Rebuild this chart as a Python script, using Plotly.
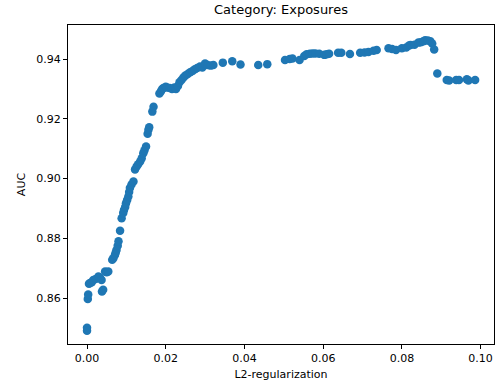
import plotly.graph_objects as go

l2_reg = [0.0000, 0.0000, 0.0002, 0.0003, 0.0005, 0.0008, 0.0012, 0.0016, 0.0022, 0.0029,
          0.0033, 0.0037, 0.0038, 0.0041, 0.0046, 0.0050, 0.0054, 0.0064, 0.0067, 0.0071,
          0.0073, 0.0075, 0.0078, 0.0080, 0.0084, 0.0088, 0.0092, 0.0094, 0.0097, 0.0099,
          0.0102, 0.0105, 0.0107, 0.0109, 0.0113, 0.0118, 0.0122, 0.0126, 0.0130, 0.0135,
          0.0139, 0.0143, 0.0146, 0.0150, 0.0154, 0.0156, 0.0158, 0.0166, 0.0169, 0.0184,
          0.0188, 0.0191, 0.0194, 0.0200, 0.0203, 0.0210, 0.0216, 0.0222, 0.0226, 0.0231,
          0.0235, 0.0240, 0.0245, 0.0250, 0.0256, 0.0262, 0.0268, 0.0274, 0.0280, 0.0287,
          0.0293, 0.0300, 0.0306, 0.0314, 0.0321, 0.0345, 0.0369, 0.0390, 0.0435, 0.0458,
          0.0503, 0.0515, 0.0522, 0.0540, 0.0552, 0.0558, 0.0566, 0.0573, 0.0580, 0.0590,
          0.0603, 0.0609, 0.0615, 0.0638, 0.0646, 0.0668, 0.0694, 0.0705, 0.0715, 0.0728,
          0.0736, 0.0766, 0.0775, 0.0785, 0.0800, 0.0811, 0.0818, 0.0822, 0.0832, 0.0842,
          0.0848, 0.0855, 0.0859, 0.0866, 0.0872, 0.0877, 0.0882, 0.0890, 0.0914, 0.0920,
          0.0938, 0.0945, 0.0965, 0.0969, 0.0986]
auc = [0.8500, 0.8490, 0.8597, 0.8612, 0.8648, 0.8650, 0.8653, 0.8660, 0.8664, 0.8672,
       0.8668, 0.8660, 0.8622, 0.8628, 0.8689, 0.8686, 0.8689, 0.8728, 0.8733, 0.8744,
       0.8752, 0.8761, 0.8775, 0.8790, 0.8825, 0.8867, 0.8885, 0.8895, 0.8905, 0.8917,
       0.8928, 0.8940, 0.8955, 0.8968, 0.8980, 0.8990, 0.9030, 0.9040, 0.9048, 0.9057,
       0.9068, 0.9085, 0.9095, 0.9107, 0.9150, 0.9163, 0.9172, 0.9224, 0.9240, 0.9285,
       0.9292, 0.9300, 0.9303, 0.9307, 0.9305, 0.9303, 0.9300, 0.9305, 0.9300, 0.9310,
       0.9322, 0.9330, 0.9338, 0.9345, 0.9350, 0.9356, 0.9360, 0.9366, 0.9370, 0.9375,
       0.9372, 0.9385, 0.9380, 0.9378, 0.9380, 0.9388, 0.9393, 0.9382, 0.9380, 0.9383,
       0.9397, 0.9400, 0.9402, 0.9397, 0.9410, 0.9416, 0.9418, 0.9419, 0.9419, 0.9418,
       0.9414, 0.9416, 0.9418, 0.9421, 0.9421, 0.9417, 0.9421, 0.9422, 0.9424, 0.9428,
       0.9430, 0.9436, 0.9434, 0.9430, 0.9436, 0.9439, 0.9445, 0.9447, 0.9448, 0.9455,
       0.9456, 0.9460, 0.9463, 0.9462, 0.9460, 0.9452, 0.9432, 0.9352, 0.9330, 0.9328,
       0.9330, 0.9330, 0.9332, 0.9328, 0.9330]

x_ticks = [0.00, 0.02, 0.04, 0.06, 0.08, 0.10]
x_tick_labels = ["0.00", "0.02", "0.04", "0.06", "0.08", "0.10"]
y_ticks = [0.86, 0.88, 0.90, 0.92, 0.94]
y_tick_labels = ["0.86", "0.88", "0.90", "0.92", "0.94"]

fig = go.Figure(go.Scatter(
    x=l2_reg, y=auc, mode="markers",
    marker=dict(color="#1f77b4", size=8.5, line=dict(width=0)),
))

axis_common = dict(
    showgrid=False, zeroline=False, showline=True, linecolor="black", linewidth=1,
    mirror=True, ticks="outside", ticklen=4, tickcolor="black", tickwidth=1,
    tickfont=dict(family="DejaVu Sans", size=11, color="black"),
)

fig.update_layout(
    width=498, height=388,
    margin=dict(l=68, r=4, t=25, b=44),
    paper_bgcolor="white", plot_bgcolor="white",
    font=dict(family="DejaVu Sans", color="black"),
    showlegend=False,
    title=dict(text="Category: Exposures", x=0.5, xanchor="center", xref="paper",
               y=1, yref="container", yanchor="top", pad=dict(t=5),
               font=dict(family="DejaVu Sans", size=13, color="black")),
    xaxis=dict(range=[-0.00483, 0.1034], tickvals=x_ticks, ticktext=x_tick_labels,
               title=dict(text="L2-regularization", standoff=6,
                          font=dict(family="DejaVu Sans", size=11)),
               **axis_common),
    yaxis=dict(range=[0.8446, 0.9514], tickvals=y_ticks, ticktext=y_tick_labels,
               title=dict(text="AUC", standoff=8,
                          font=dict(family="DejaVu Sans", size=11)),
               **axis_common),
)

fig.write_html("out.html")
